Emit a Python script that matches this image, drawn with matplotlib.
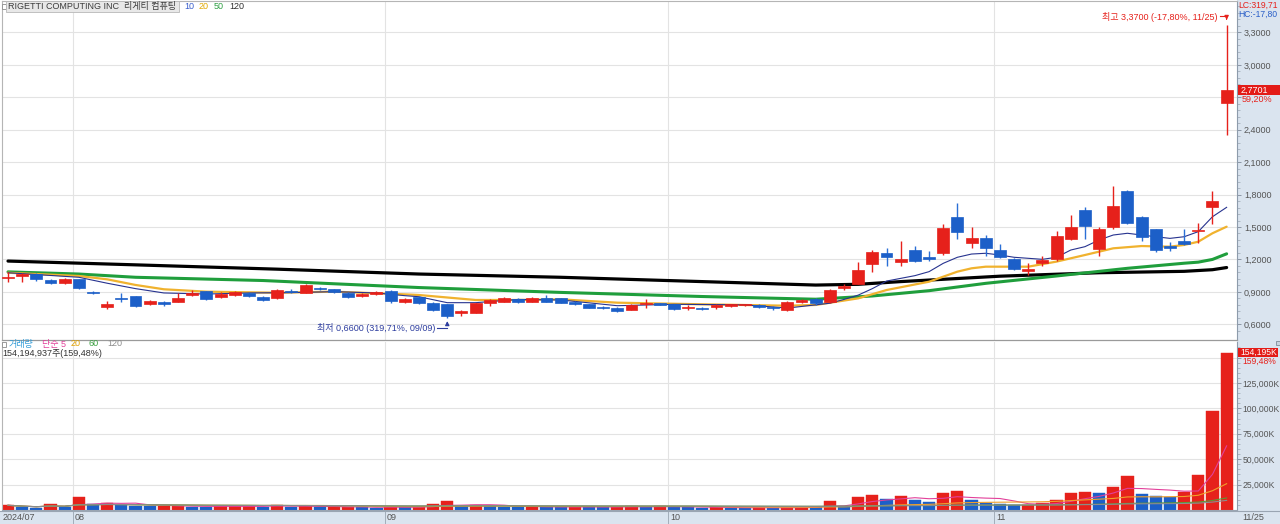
import matplotlib
matplotlib.use('Agg')
import matplotlib.pyplot as plt
from matplotlib.patches import Rectangle
from matplotlib.lines import Line2D
import numpy as np
import pandas as pd

# ---------------- data ----------------
dates = (['07/25', '07/26', '07/29', '07/30', '07/31'] +
         ['08/%02d' % d for d in [1, 2, 5, 6, 7, 8, 9, 12, 13, 14, 15, 16, 19, 20, 21, 22, 23, 26, 27, 28, 29, 30]] +
         ['09/%02d' % d for d in [3, 4, 5, 6, 9, 10, 11, 12, 13, 16, 17, 18, 19, 20, 23, 24, 25, 26, 27, 30]] +
         ['10/%02d' % d for d in [1, 2, 3, 4, 7, 8, 9, 10, 11, 14, 15, 16, 17, 18, 21, 22, 23, 24, 25, 28, 29, 30, 31]] +
         ['11/%02d' % d for d in [1, 4, 5, 6, 7, 8, 11, 12, 13, 14, 15, 18, 19, 20, 21, 22, 25]])

opens = [1.030, 1.047, 1.065, 1.010, 0.985, 1.016, 0.897, 0.757, 0.846, 0.862,
         0.785, 0.810, 0.810, 0.868, 0.908, 0.850, 0.871, 0.892, 0.855, 0.840,
         0.912, 0.892, 0.935, 0.925, 0.892, 0.865, 0.877, 0.910, 0.810, 0.855,
         0.800, 0.788, 0.702, 0.708, 0.795, 0.810, 0.831, 0.810, 0.846, 0.840,
         0.810, 0.785, 0.763, 0.755, 0.733, 0.786, 0.794, 0.785, 0.750, 0.755,
         0.758, 0.772, 0.778, 0.779, 0.763, 0.728, 0.810, 0.830, 0.805, 0.935,
         0.975, 1.155, 1.257, 1.180, 1.287, 1.220, 1.257, 1.590, 1.355, 1.400,
         1.287, 1.200, 1.096, 1.170, 1.201, 1.390, 1.657, 1.297, 1.497, 1.833,
         1.590, 1.479, 1.324, 1.373, 1.465, 1.682, 2.645]
highs = [1.085, 1.070, 1.070, 1.020, 1.030, 1.020, 0.905, 0.820, 0.885, 0.865,
         0.825, 0.815, 0.890, 0.920, 0.912, 0.900, 0.905, 0.900, 0.860, 0.925,
         0.930, 0.970, 0.945, 0.930, 0.900, 0.890, 0.910, 0.915, 0.840, 0.860,
         0.805, 0.790, 0.730, 0.800, 0.835, 0.855, 0.840, 0.850, 0.875, 0.845,
         0.815, 0.790, 0.770, 0.760, 0.785, 0.830, 0.800, 0.790, 0.780, 0.760,
         0.790, 0.790, 0.790, 0.785, 0.770, 0.815, 0.835, 0.840, 0.930, 0.975,
         1.175, 1.290, 1.310, 1.375, 1.320, 1.275, 1.530, 1.720, 1.500, 1.430,
         1.345, 1.210, 1.170, 1.235, 1.460, 1.610, 1.682, 1.500, 1.882, 1.845,
         1.600, 1.485, 1.360, 1.479, 1.540, 1.836, 3.370]
lows = [0.995, 0.995, 1.005, 0.975, 0.975, 0.925, 0.882, 0.740, 0.810, 0.760,
        0.780, 0.765, 0.805, 0.860, 0.825, 0.845, 0.865, 0.855, 0.820, 0.835,
        0.885, 0.885, 0.920, 0.890, 0.840, 0.855, 0.870, 0.800, 0.800, 0.790,
        0.725, 0.660, 0.675, 0.705, 0.770, 0.805, 0.795, 0.805, 0.805, 0.795,
        0.780, 0.750, 0.745, 0.715, 0.730, 0.755, 0.775, 0.735, 0.730, 0.735,
        0.745, 0.760, 0.770, 0.755, 0.735, 0.720, 0.800, 0.780, 0.800, 0.920,
        0.970, 1.080, 1.140, 1.135, 1.180, 1.185, 1.240, 1.390, 1.310, 1.235,
        1.215, 1.105, 1.060, 1.135, 1.190, 1.380, 1.386, 1.232, 1.480, 1.525,
        1.370, 1.270, 1.280, 1.330, 1.355, 1.528, 2.355]
closes = [1.035, 1.065, 1.016, 0.980, 1.016, 0.933, 0.887, 0.788, 0.834, 0.765,
          0.816, 0.785, 0.840, 0.892, 0.832, 0.877, 0.896, 0.862, 0.825, 0.917,
          0.900, 0.964, 0.925, 0.895, 0.848, 0.880, 0.902, 0.820, 0.830, 0.795,
          0.733, 0.680, 0.722, 0.795, 0.825, 0.846, 0.802, 0.840, 0.810, 0.800,
          0.785, 0.755, 0.750, 0.725, 0.778, 0.800, 0.780, 0.740, 0.762, 0.742,
          0.778, 0.785, 0.781, 0.758, 0.750, 0.810, 0.825, 0.797, 0.915, 0.955,
          1.100, 1.272, 1.220, 1.200, 1.190, 1.205, 1.488, 1.452, 1.395, 1.310,
          1.220, 1.115, 1.114, 1.195, 1.420, 1.497, 1.510, 1.480, 1.694, 1.540,
          1.405, 1.290, 1.305, 1.345, 1.473, 1.740, 2.770]

# volume in millions of shares, and whether the bar is drawn red (1) or blue (0)
volume_m = [4.6, 3.0, 2.2, 5.6, 3.0, 12.5, 5.6, 7.0, 4.6, 4.0,
            4.0, 4.0, 4.0, 3.0, 3.0, 4.0, 4.0, 4.0, 3.0, 5.0,
            3.0, 4.0, 2.5, 3.0, 3.0, 3.0, 2.2, 3.0, 2.5, 3.2,
            5.5, 8.5, 4.0, 4.5, 3.5, 3.2, 3.0, 3.2, 3.0, 2.8,
            3.2, 3.0, 2.8, 3.2, 3.6, 3.2, 3.5, 3.0, 2.5, 2.2,
            2.6, 2.2, 2.0, 2.5, 2.0, 2.6, 3.0, 2.6, 8.5, 3.5,
            12.5, 14.5, 10.5, 13.5, 9.5, 7.5, 16.5, 18.5, 9.5, 6.5,
            5.5, 4.6, 5.0, 6.5, 10.0, 16.5, 17.5, 16.5, 23.0, 33.0,
            15.5, 13.5, 13.0, 17.5, 34.0, 97.0, 154.195]
volume_up = [1, 0, 0, 1, 0, 1, 0, 1, 0, 0,
             0, 1, 1, 0, 0, 1, 1, 1, 0, 1,
             0, 1, 0, 1, 1, 0, 0, 1, 0, 1,
             1, 1, 0, 1, 0, 0, 0, 1, 0, 0,
             1, 0, 0, 1, 1, 0, 1, 0, 0, 0,
             1, 0, 0, 1, 0, 1, 1, 0, 1, 0,
             1, 1, 0, 1, 0, 0, 1, 1, 0, 0,
             0, 0, 1, 1, 1, 1, 1, 0, 1, 1,
             0, 0, 0, 1, 1, 1, 1]

# moving averages (candle index, price)
ma10_idx = [0, 5, 7, 9, 11, 14, 17, 20, 23, 26, 28, 29, 31, 33, 36, 39, 43, 47, 52, 55, 57, 58, 59, 60, 61, 62, 64, 65, 66, 67, 68, 69, 70, 71, 73, 74, 75, 76, 77, 78, 79, 81, 82, 83, 84, 85, 86]
ma10_val = [1.077, 1.035, 0.98, 0.93, 0.89, 0.88, 0.89, 0.893, 0.902, 0.89, 0.865, 0.855, 0.80, 0.80, 0.83, 0.825, 0.772, 0.785, 0.78, 0.75, 0.78, 0.795, 0.83, 0.87, 0.93, 1.00, 1.05, 1.087, 1.164, 1.22, 1.25, 1.257, 1.241, 1.22, 1.201, 1.22, 1.287, 1.318, 1.38, 1.426, 1.442, 1.41, 1.395, 1.41, 1.457, 1.595, 1.682]
ma20_idx = [0, 5, 7, 9, 11, 14, 19, 23, 28, 29, 33, 36, 39, 43, 49, 55, 57, 60, 62, 65, 67, 68, 69, 72, 74, 76, 78, 80, 82, 83, 84, 85, 86]
ma20_val = [1.077, 1.047, 1.016, 0.964, 0.924, 0.902, 0.892, 0.902, 0.877, 0.871, 0.825, 0.825, 0.831, 0.80, 0.785, 0.772, 0.779, 0.84, 0.917, 0.994, 1.087, 1.118, 1.133, 1.133, 1.18, 1.241, 1.303, 1.324, 1.318, 1.334, 1.364, 1.442, 1.503]
ma50_idx = [0, 5, 9, 18, 23, 29, 39, 49, 57, 61, 65, 69, 74, 79, 83, 84, 85, 86]
ma50_val = [1.085, 1.065, 1.035, 1.005, 0.975, 0.94, 0.895, 0.857, 0.832, 0.862, 0.911, 0.979, 1.047, 1.118, 1.165, 1.175, 1.20, 1.252]
ma120_idx = [0, 9, 19, 29, 39, 49, 57, 60, 63, 70, 77, 83, 85, 86]
ma120_val = [1.185, 1.15, 1.11, 1.065, 1.035, 0.995, 0.963, 0.97, 0.995, 1.045, 1.077, 1.09, 1.105, 1.125]

price_ticks = [0.6, 0.9, 1.2, 1.5, 1.8, 2.1, 2.4, 2.7, 3.0, 3.3]
vol_ticks = [25, 50, 75, 100, 125, 150]
vol_ma_periods = [5, 20, 60, 120]

plt.rcParams['font.family'] = ['Liberation Sans', 'Noto Sans CJK KR', 'DejaVu Sans']

# ---------------- layout helpers ----------------
W, H = 1280, 524
X0, DX = 8.0, 14.17          # pixel x of first candle, pixel step
P0Y, PSC = 324.3, 108.1      # pixel y of price 0.6, pixels per price unit
V0Y, VSC = 510.0, 1.016      # pixel y of zero volume, pixels per million
FS = 6.5


def fx(x):
    return x / W


def fy(y):
    return 1 - y / H


RED = '#e6211b'
BLUE = '#1c5fc8'
BAND = '#dae4ef'
GRID = '#e3e3e3'
TXT = '#555555'

fig = plt.figure(figsize=(12.8, 5.24), dpi=100)
fig.patch.set_facecolor('white')
renderer = fig.canvas.get_renderer()


def text(x, y, s, color, ha='left', fs=FS, **kw):
    return fig.text(fx(x), fy(y), s, color=color, fontsize=fs, ha=ha, va='center', **kw)


def row(items, x, y, fs=FS, **kw):
    """place texts one after another; returns list of (text, x0, x1)"""
    out = []
    for s, col, gap in items:
        x += gap
        t = text(x, y, s, col, fs=fs, **kw)
        w = t.get_window_extent(renderer=renderer).width
        out.append((t, x, x + w))
        x += w
    return out


# right scale band and date band (behind everything)
fig.patches.append(Rectangle((fx(1237), 0), 1 - fx(1237), 1, transform=fig.transFigure,
                             facecolor=BAND, edgecolor='none', zorder=-10))
fig.patches.append(Rectangle((0, 0), 1, fy(511), transform=fig.transFigure,
                             facecolor=BAND, edgecolor='none', zorder=-10))

xl = ((2 - X0) / DX, (1237 - X0) / DX)
n = len(dates)
xs = np.arange(n)
month_start = [i for i in range(1, n) if dates[i][:2] != dates[i - 1][:2]]
month_lines = [i - 0.42 for i in month_start]

# ---------------- price panel ----------------
axp = fig.add_axes([fx(2), fy(340), fx(1237) - fx(2), fy(1) - fy(340)])
axp.set_xlim(*xl)
axp.set_ylim(0.6 + (P0Y - 340) / PSC, 0.6 + (P0Y - 1) / PSC)
axp.set_facecolor('white')
for v in price_ticks:
    axp.axhline(v, color=GRID, lw=0.8, zorder=0)
for m in month_lines:
    axp.axvline(m, color=GRID, lw=0.8, zorder=0)

axp.plot(ma120_idx, ma120_val, color='#000000', lw=2.3, zorder=2, solid_capstyle='round')
axp.plot(ma50_idx, ma50_val, color='#1f9e3c', lw=2.2, zorder=2, solid_capstyle='round')
axp.plot(ma20_idx, ma20_val, color='#f0b22e', lw=1.6, zorder=2, solid_capstyle='round')
axp.plot(ma10_idx, ma10_val, color='#27338f', lw=0.8, zorder=2)

o = np.array(opens); c = np.array(closes); hi = np.array(highs); lo = np.array(lows)
up = c >= o
ccol = np.where(up, RED, BLUE)
wcol = np.where(up, RED, '#2a6fd6')
axp.vlines(xs, lo, hi, colors=wcol, lw=1.0, zorder=3)
body_h = np.maximum(np.abs(c - o), 0.008)
axp.bar(xs, body_h, bottom=np.minimum(o, c), width=0.84, color=ccol, edgecolor=ccol,
        linewidth=0.5, zorder=4)

axp.yaxis.tick_right()
axp.set_yticks(price_ticks)
axp.set_yticklabels([('%.4f' % v).replace('.', ',') if abs(v - 2.7) > 1e-6 else '' for v in price_ticks])
axp.set_yticks(np.arange(0.54, 3.6, 0.06), minor=True)
axp.tick_params(axis='y', which='major', direction='out', length=3, width=0.6, color='#7f8a99',
                pad=2, labelsize=6.5, labelcolor=TXT)
axp.tick_params(axis='y', which='minor', direction='out', length=2, width=0.5, color='#9aa5b2')
axp.set_xticks([])
for s in ['left', 'top']:
    axp.spines[s].set_color('#b5b5b5'); axp.spines[s].set_linewidth(0.8)
axp.spines['right'].set_color('#8d9bab'); axp.spines['right'].set_linewidth(0.8)
axp.spines['bottom'].set_color('#9a9a9a'); axp.spines['bottom'].set_linewidth(0.9)

# low / high annotations
low_i = int(np.argmin(lo)); high_i = int(np.argmax(hi))
py_low_line = 0.6 + (P0Y - 328) / PSC
axp.plot([low_i - 0.7, low_i], [py_low_line, py_low_line], color='#2c3c9e', lw=0.8, zorder=5)
axp.annotate('', xy=(low_i, lo[low_i] - 0.005), xytext=(low_i, py_low_line),
             arrowprops=dict(arrowstyle='-|>', color='#2c3c9e', lw=0.8, mutation_scale=6), zorder=5)
text(435, 328, '최저 0,6600 (319,71%, 09/09)', '#2c3c9e', ha='right')
py_hi_line = 0.6 + (P0Y - 15.5) / PSC
axp.plot([high_i - 0.5, high_i], [py_hi_line, py_hi_line], color=RED, lw=0.8, zorder=5)
axp.annotate('', xy=(high_i, hi[high_i] + 0.02), xytext=(high_i, py_hi_line),
             arrowprops=dict(arrowstyle='-|>', color=RED, lw=0.8, mutation_scale=6), zorder=5)
text(1217, 16.5, '최고 3,3700 (-17,80%, 11/25)', RED, ha='right')

# ---------------- volume panel ----------------
axv = fig.add_axes([fx(2), fy(V0Y), fx(1237) - fx(2), fy(342) - fy(V0Y)])
axv.set_xlim(*xl)
axv.set_ylim(0, (V0Y - 342) / VSC)
axv.set_facecolor('white')
for v in vol_ticks:
    axv.axhline(v, color=GRID, lw=0.8, zorder=0)
for m in month_lines:
    axv.axvline(m, color=GRID, lw=0.8, zorder=0)
vcol = [RED if u else BLUE for u in volume_up]
axv.bar(xs, volume_m, width=0.86, color=vcol, edgecolor=vcol, linewidth=0.3, zorder=2)
vs = pd.Series(volume_m)
for p, col in zip(vol_ma_periods, ['#e2409a', '#f0a02a', '#5a9a36', '#8c8c8c']):
    axv.plot(xs, vs.rolling(p, min_periods=1).mean(), color=col, lw=0.8, zorder=3)
axv.yaxis.tick_right()
axv.set_yticks(vol_ticks)
axv.set_yticklabels(['{:,}K'.format(int(v * 1000)) if v < 150 else '' for v in vol_ticks])
axv.set_yticks(np.arange(5, 165, 5), minor=True)
axv.tick_params(axis='y', which='major', direction='out', length=3, width=0.6, color='#7f8a99',
                pad=1, labelsize=6.2, labelcolor=TXT)
axv.tick_params(axis='y', which='minor', direction='out', length=2, width=0.5, color='#9aa5b2')
axv.set_xticks([])
axv.spines['left'].set_color('#b5b5b5'); axv.spines['left'].set_linewidth(0.8)
axv.spines['top'].set_visible(False)
axv.spines['right'].set_color('#8d9bab'); axv.spines['right'].set_linewidth(0.8)
axv.spines['bottom'].set_color('#9aa5b2'); axv.spines['bottom'].set_linewidth(0.8)

# ---------------- header texts ----------------
fig.patches.append(Rectangle((fx(1.5), fy(8.5)), fx(4), fy(3.5) - fy(8.5), transform=fig.transFigure,
                             facecolor='white', edgecolor='#8a8a8a', lw=0.6, zorder=5))
hdr = row([('RIGETTI COMPUTING INC', '#3c3c3c', 0), ('리게티 컴퓨팅', '#3c3c3c', 5)], 8, 6.5, zorder=6)
box_end = hdr[-1][2] + 3
fig.patches.append(Rectangle((fx(6), fy(12)), fx(box_end - 6), fy(1) - fy(12), transform=fig.transFigure,
                             facecolor='#e8e8e8', edgecolor='#b8b8b8', lw=0.6, zorder=5))
row([('10', '#3a5fcd', 0), ('20', '#e0a800', 5), ('50', '#2ea043', 5), ('120', '#303030', 5)],
    box_end + 5, 6.5)

text(1238, 5, 'LC:319,71', RED, fs=6.2)
text(1238, 14, 'HC:-17,80', '#2a5fc8', fs=6.2)
fig.patches.append(Rectangle((fx(1238), fy(95)), 1 - fx(1238), fy(85) - fy(95), transform=fig.transFigure,
                             facecolor='#e31b17', edgecolor='none', zorder=6))
text(1241, 90, '2,7701', 'white', zorder=7)
text(1242, 99.5, '59,20%', RED, zorder=7)

# volume header
fig.patches.append(Rectangle((fx(1.5), fy(346.5)), fx(4), fy(341.5) - fy(346.5), transform=fig.transFigure,
                             facecolor='white', edgecolor='#8a8a8a', lw=0.6, zorder=5))
row([('거래량', '#2f9ad6', 0), ('단순 5', '#e2409a', 8), ('20', '#e0a000', 5),
     ('60', '#3aa040', 8), ('120', '#8c8c8c', 8)], 9, 344)
text(2.5, 354, '154,194,937주(159,48%)', '#333333')
fig.patches.append(Rectangle((fx(1238), fy(356.5)), fx(1278) - fx(1238), fy(347.5) - fy(356.5),
                             transform=fig.transFigure, facecolor='#e31b17', edgecolor='none', zorder=6))
text(1240, 352, '154,195K', 'white', fs=6.2, zorder=7)
text(1242, 361, '159,48%', RED, fs=6.2, zorder=7)
fig.patches.append(Rectangle((fx(1275.5), fy(345)), fx(4), fy(341) - fy(345), transform=fig.transFigure,
                             facecolor='#c9d3de', edgecolor='#6f7c8a', lw=0.5, zorder=8))

# ---------------- date band ----------------
fig.lines.append(Line2D([0, 1], [fy(511), fy(511)], transform=fig.transFigure, color='#9aa5b2', lw=0.8))
text(3, 517.5, '2024/07', TXT)
for i in month_start:
    px = X0 + (i - 0.42) * DX
    fig.lines.append(Line2D([fx(px), fx(px)], [fy(511), fy(524)], transform=fig.transFigure,
                            color='#9aa5b2', lw=0.6))
    text(px + 2, 517.5, dates[i][:2], TXT)
text(1242, 517.5, dates[-1], TXT)

fig.savefig('out.png', dpi=100, facecolor='white')
